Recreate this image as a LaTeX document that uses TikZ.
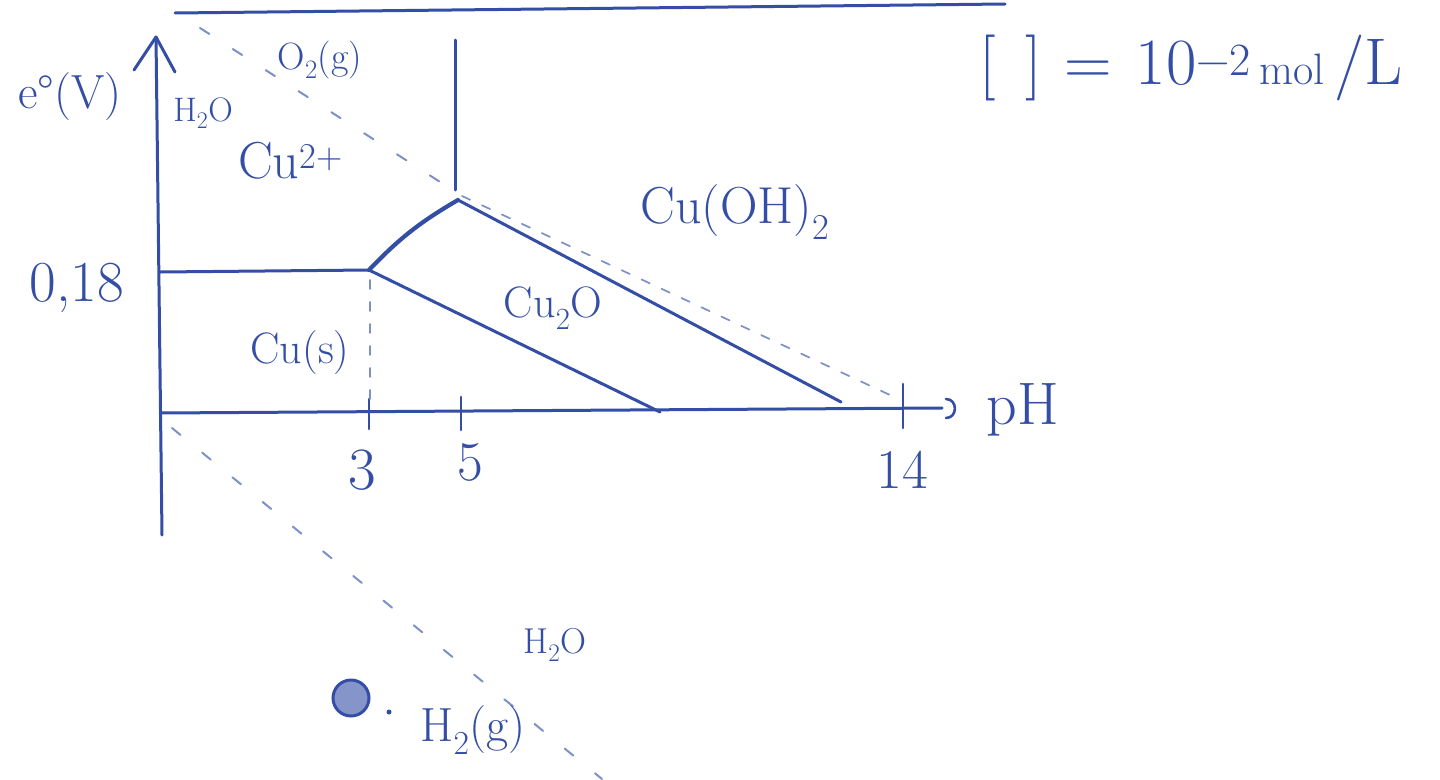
\documentclass[tikz,border=0pt]{standalone}
\usepackage{fontspec}
\definecolor{ink}{RGB}{52,78,165}
\definecolor{inklight}{RGB}{125,145,200}
\newcommand\fsz[1]{\fontsize{#1}{#1}\selectfont}
\begin{document}
\begin{tikzpicture}[x=1pt,y=-1pt,
  inkline/.style={draw=ink,line width=3pt,line cap=round,line join=round},
  boldline/.style={draw=ink,line width=4.2pt,line cap=round},
  guide/.style={draw=inklight,line width=1.7pt,line cap=round,dash pattern=on 9pt off 13pt},
  sparse/.style={draw=inklight,line width=2pt,line cap=round,dash pattern=on 11pt off 28pt},
  lbl/.style={text=ink,inner sep=0pt}]
\useasboundingbox[fill=white] (0,0) rectangle (1440,779);

% coordinates
\coordinate (ytip) at (156,37);
\coordinate (ybot) at (162,535);
\coordinate (O) at (160,413);
\coordinate (xend) at (942,408);
\coordinate (topL) at (175,13);
\coordinate (topR) at (1005,4);
\coordinate (E18) at (160,272);
\coordinate (A) at (369,270);
\coordinate (B) at (458,200);
\coordinate (Vtop) at (455,40);
\coordinate (Vbot) at (455,190);
\coordinate (C1) at (841,402);
\coordinate (C2) at (660,412);
\coordinate (w1) at (200,28);
\coordinate (w2) at (462,196);
\coordinate (w3) at (890,395);
\coordinate (h1) at (172,428);
\coordinate (h2) at (602,779);
\coordinate (p3t) at (370,280);
\coordinate (p3b) at (370,405);
\coordinate (t3) at (369,399);
\coordinate (t5) at (461,397);
\coordinate (t14) at (903,384);

% top line
\draw[inkline] (topL) -- (topR);

% axes
\draw[inkline] (ybot) -- (ytip);
\draw[inkline] (ytip) -- ++(-22,33);
\draw[inkline] (ytip) -- ++(19,35);
\draw[inkline] (O) -- (xend);
\draw[inkline,line width=2.6pt] (xend) ++(4,-9) to[out=0,in=0,looseness=1.6] ++(0,19);

% ticks
\draw[inkline,line width=2.6pt] (t3) -- ++(0,30);
\draw[inkline,line width=2.6pt] (t5) -- ++(0,33);
\draw[inkline,line width=2.6pt] (t14) -- ++(0,44);

% domain boundaries
\draw[inkline] (E18) -- (A);
\draw[boldline] (A) to[bend left=8] (B);
\draw[inkline] (B) -- (C1);
\draw[inkline] (A) -- (C2);
\draw[inkline] (Vtop) -- (Vbot);

% water lines and guide
\draw[sparse] (w1) -- (w2);
\draw[guide] (w2) -- (w3);
\draw[sparse] (h1) -- (h2);
\draw[guide] (p3t) -- (p3b);

% labels
\node[lbl,font=\fsz{48}] (ev) at (70,97) {e°(V)};
\node[lbl,font=\fsz{58}] (v018) at (77,288) {0,18};
\node[lbl,font=\fsz{34}] (h2o) at (203,113) {H\textsubscript{2}O};
\node[lbl,font=\fsz{38}] (o2) at (320,60) {O\textsubscript{2}(g)};
\node[lbl,font=\fsz{52},anchor=base west] (cu2) at (238,178) {Cu\textsuperscript{2+}};
\node[lbl,font=\fsz{52}] (cuoh) at (735,212) {Cu(OH)\textsubscript{2}};
\node[lbl,font=\fsz{44}] (cu2o) at (553,308) {Cu\textsubscript{2}O};
\node[lbl,font=\fsz{44}] (cus) at (300,353) {Cu(s)};
\node[lbl,font=\fsz{60}] (n3) at (362,470) {3};
\node[lbl,font=\fsz{56}] (n5) at (470,462) {5};
\node[lbl,font=\fsz{56}] (n14) at (902,470) {14};
\node[lbl,font=\fsz{60}] (ph) at (1023,410) {pH};
\node[lbl,font=\fsz{66}] (conc) at (1191,68) {{[}\hspace{30pt}{]}\hspace{22pt}=\hspace{24pt}10\textsuperscript{−2}\hspace{8pt}{\fsz{44}mol}\hspace{10pt}/L};
\node[lbl,font=\fsz{48}] (h2g) at (473,730) {H\textsubscript{2}(g)};
\node[lbl,font=\fsz{36}] (h2ol) at (555,645) {H\textsubscript{2}O};
\node[circle,draw=ink,line width=3pt,fill=ink!60,minimum size=36pt,inner sep=0pt] (circ) at (351,698) {};
\fill[ink] (389,712) circle (2.5pt);
\end{tikzpicture}
\end{document}
